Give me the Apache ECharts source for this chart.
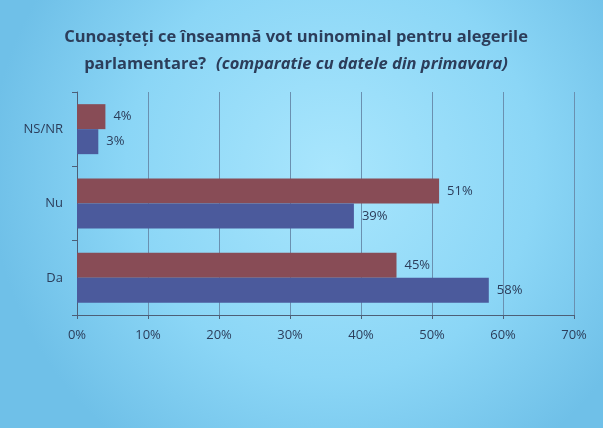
<!DOCTYPE html>
<html>
<head>
<meta charset="utf-8">
<script src="https://cdn.jsdelivr.net/npm/echarts@6/dist/echarts.min.js"></script>
<style>
  html, body { margin: 0; padding: 0; }
  #chart { width: 603px; height: 428px; }
</style>
</head>
<body>
<div id="chart"></div>
<script>
// categories, bottom to top
const categories = ['Da', 'Nu', 'NS/NR'];
// current survey (upper, red bars) and spring survey (lower, blue bars)
const currentValues = [45, 51, 4];
const springValues = [58, 39, 3];
const xTicks = [0, 10, 20, 30, 40, 50, 60, 70];

const textColor = '#2c3d5a';
const font = 'Open Sans';

const chart = echarts.init(document.getElementById('chart'));

const option = {
  backgroundColor: {
    type: 'radial', x: 0.55, y: 0.4, r: 0.8,
    colorStops: [
      { offset: 0, color: '#a9e6fd' },
      { offset: 0.6, color: '#8bd6f6' },
      { offset: 1, color: '#6fc0e8' }
    ]
  },
  title: {
    left: 291,
    textAlign: 'center',
    top: 19,
    text: '{b|Cunoașteți ce înseamnă vot uninominal pentru alegerile}\n{b|parlamentare?}  {i|(comparatie cu datele din primavara)}',
    textStyle: {
      rich: {
        b: { fontFamily: font, fontWeight: 'bold', fontSize: 16.5, color: textColor, lineHeight: 27 },
        i: { fontFamily: font, fontStyle: 'italic', fontSize: 16.5, color: textColor, lineHeight: 27 }
      }
    }
  },
  grid: { left: 77, right: 29, top: 92, bottom: 113 },
  xAxis: {
    type: 'value',
    min: xTicks[0],
    max: xTicks[xTicks.length - 1],
    interval: 10,
    axisLine: { show: true, lineStyle: { color: '#4d5f77', width: 1 } },
    axisTick: { show: true, length: 4, lineStyle: { color: '#4d5f77' } },
    axisLabel: { formatter: '{value}%', color: textColor, fontFamily: font, fontSize: 13, margin: 14 },
    splitLine: { show: true, lineStyle: { color: '#6a90b0', width: 1 } }
  },
  yAxis: {
    type: 'category',
    data: categories,
    axisLine: { show: true, lineStyle: { color: '#4d5f77', width: 1 } },
    axisTick: { show: true, length: 5, lineStyle: { color: '#4d5f77' } },
    axisLabel: { color: textColor, fontFamily: font, fontSize: 13, margin: 14 }
  },
  series: [
    {
      name: 'acum',
      type: 'bar',
      data: currentValues,
      barWidth: 25,
      barGap: '0%',
      itemStyle: { color: '#884c56' },
      label: { show: true, position: 'right', formatter: '{c}%', color: textColor, fontFamily: font, fontSize: 13, distance: 8 }
    },
    {
      name: 'primavara',
      type: 'bar',
      data: springValues,
      barWidth: 25,
      barGap: '0%',
      itemStyle: { color: '#4b5a9c' },
      label: { show: true, position: 'right', formatter: '{c}%', color: textColor, fontFamily: font, fontSize: 13, distance: 8 }
    }
  ]
};

chart.setOption(option);
</script>
</body>
</html>
